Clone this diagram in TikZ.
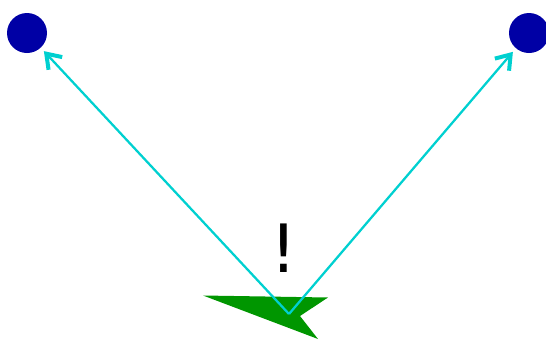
\documentclass[tikz,border=0pt]{standalone}
\usepackage{fontspec}
\setmainfont{DejaVu Sans}
\usetikzlibrary{arrows.meta, positioning}

\definecolor{dotblue}{RGB}{0,0,165}
\definecolor{linecyan}{RGB}{0,208,208}
\definecolor{shapegreen}{RGB}{0,150,0}

\begin{document}
\begin{tikzpicture}[
      x=0.75pt, y=-0.75pt,
      dot/.style={circle, fill=dotblue, inner sep=0pt, minimum size=30pt, outer sep=3.6pt},
      bangtext/.style={font=\fontsize{50}{50}\selectfont, inner sep=0pt},
      arrow/.style={-{Straight Barb[length=10pt, width=14pt, line width=3pt]}, linecyan, line width=1.7pt}
    ]
    \useasboundingbox (0,0) rectangle (546,340);

    \node[dot] (l) at (27,33) {};
    \node[dot] (r) at (529,33) {};
    \coordinate (o) at (289,314);

    \fill[shapegreen] (203,295.5) -- (328,297.5) -- (300,316) -- (318,339) -- cycle;

    \node[bangtext] (bang) at (284,248) {!};

    \draw[arrow] (o) -- (l);
    \draw[arrow] (o) -- (r);
  \end{tikzpicture}
\end{document}
